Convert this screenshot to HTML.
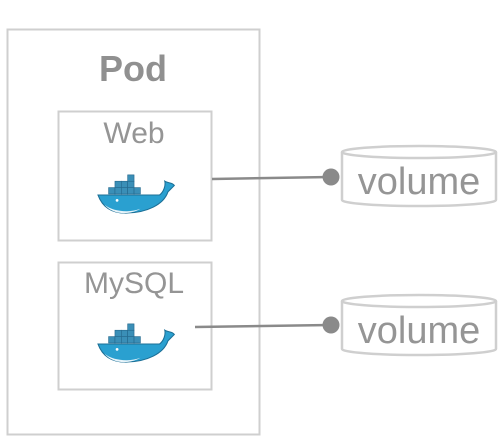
<!DOCTYPE html>
<html><head><style>
body{margin:0;background:#fff;width:502px;height:441px;overflow:hidden}
</style></head><body>
<svg width="502" height="441" viewBox="0 0 502 441" xmlns="http://www.w3.org/2000/svg" font-family="Liberation Sans, sans-serif">
<defs>
<g id="whale">
  <g fill="#3a8fb7" stroke="#24698e" stroke-width="0.6">
    <rect x="10" y="10" width="6" height="6"/><rect x="16" y="10" width="6" height="6"/><rect x="22" y="10" width="6" height="6"/><rect x="28" y="10" width="6" height="6"/><rect x="34" y="10" width="6" height="6"/>
    <rect x="16" y="4" width="6" height="6"/><rect x="22" y="4" width="6" height="6"/><rect x="28" y="4" width="6" height="6"/>
    <rect x="28" y="-2" width="6" height="6"/>
  </g>
  <path d="M0 17 H58 C62 14 64 8 63 4 C66 6 70 5 72 8 C70 10 68 12 66 14 C62 26 46 34 26 34 C12 34 4 28 0 17Z" fill="#2aa0d0" stroke="#1c6f96" stroke-width="1"/>
  <path d="M6 26 C14 33 30 34 40 30 C30 36 14 36 6 26Z" fill="#e8f4fa"/>
  <circle cx="18" cy="22" r="1.3" fill="#fff"/>
</g>
</defs>
<rect x="7.5" y="29.5" width="252" height="405" fill="none" stroke="#cfcfcf" stroke-width="2"/>
<text x="133" y="81" text-anchor="middle" font-size="36" font-weight="bold" fill="#909090">Pod</text>
<rect x="58.5" y="111.5" width="153" height="129" fill="none" stroke="#cfcfcf" stroke-width="2"/>
<text x="134" y="143" text-anchor="middle" font-size="30" fill="#959595">Web</text>
<use href="#whale" transform="translate(98 177) scale(1.06)"/>
<rect x="58.5" y="262.5" width="153" height="127" fill="none" stroke="#cfcfcf" stroke-width="2"/>
<text x="134" y="293" text-anchor="middle" font-size="30" fill="#959595">MySQL</text>
<use href="#whale" transform="translate(98 326) scale(1.06)"/>
<line x1="212" y1="179" x2="330" y2="177" stroke="#8a8a8a" stroke-width="2.5"/>
<circle cx="331" cy="177" r="8.5" fill="#8a8a8a"/>
<line x1="195" y1="327" x2="330" y2="325" stroke="#8a8a8a" stroke-width="2.5"/>
<circle cx="331" cy="325" r="8.5" fill="#8a8a8a"/>
<g fill="none" stroke="#cfcfcf" stroke-width="2.5">
  <path d="M342 152 V200 A77 6 0 0 0 496 200 V152"/>
  <ellipse cx="419" cy="152" rx="77" ry="6"/>
  <path d="M342 301 V349 A77 6 0 0 0 496 349 V301"/>
  <ellipse cx="419" cy="301" rx="77" ry="6"/>
</g>
<text x="419" y="194" text-anchor="middle" font-size="38" fill="#959595">volume</text>
<text x="419" y="343" text-anchor="middle" font-size="38" fill="#959595">volume</text>
</svg>
</body></html>
